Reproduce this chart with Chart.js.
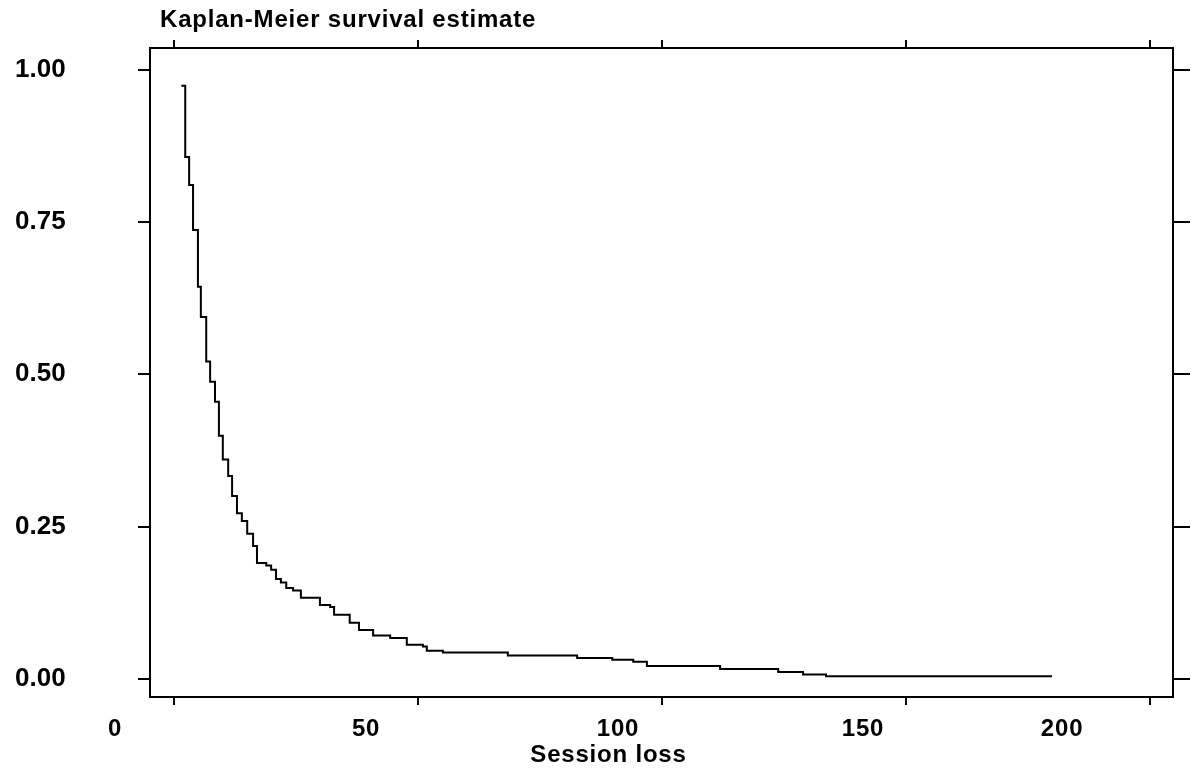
<!DOCTYPE html>
<html>
<head>
<meta charset="utf-8">
<title>Kaplan-Meier survival estimate</title>
<script src="https://cdn.jsdelivr.net/npm/chart.js@4.4.0/dist/chart.umd.min.js"></script>
<style>
  html, body { margin: 0; padding: 0; background: #fff; }
</style>
</head>
<body>
<canvas id="km-chart" width="1194" height="768"></canvas>
<script>
// Session at which each drop happens, and the survival estimate after it
const sessionTimes = [1.5, 2.3, 3.1, 3.9, 4.9, 5.5, 6.6, 7.4, 8.4, 9.2, 10.0, 11.1, 11.9, 12.9, 13.9, 15.0, 16.2, 17.0,
  18.9, 19.9, 20.9, 21.9, 23.0, 24.4, 26.0, 29.9, 32.0, 32.8, 36.0, 37.9, 40.8, 44.3, 47.7, 51.0, 51.8, 55.1,
  68.4, 82.6, 89.8, 94.1, 96.9, 111.9, 123.8, 128.9, 133.6, 179.9];
const survival = [0.974, 0.857, 0.811, 0.737, 0.644, 0.594, 0.521, 0.488, 0.455, 0.399, 0.360, 0.333, 0.300, 0.272, 0.259, 0.238, 0.218, 0.190,
  0.186, 0.179, 0.164, 0.158, 0.149, 0.145, 0.133, 0.121, 0.118, 0.105, 0.092, 0.080, 0.071, 0.067, 0.056, 0.053, 0.046, 0.043,
  0.038, 0.034, 0.031, 0.028, 0.021, 0.016, 0.011, 0.007, 0.004, 0.004];

const xTickValues = [0, 50, 100, 150, 200];
const yTickValues = [0, 0.25, 0.5, 0.75, 1];

const chartTitle = "Kaplan-Meier survival estimate";
const xTitle = "Session loss";

// x labels sit a little left of their tick marks
const xLabelShift = [-59, -52, -44, -43, -88];

const FONT_FAMILY = '"Liberation Sans", Arial, sans-serif';
const X_RANGE = { min: -4.92, max: 204.7 };
const Y_RANGE = { min: -0.03, max: 1.036 };

const points = sessionTimes.map((t, i) => ({ x: t, y: survival[i] }));

// Shared look for the four frame axes: black border, outward ticks only
function frameAxis(position, extra) {
  return Object.assign({
    type: "linear",
    position: position,
    grid: { drawOnChartArea: false, drawTicks: true, color: "#000", lineWidth: 2 },
    border: { display: true, color: "#000", width: 2 },
    ticks: { display: false }
  }, extra);
}

const setXTicks = scale => { scale.ticks = xTickValues.map(v => ({ value: v })); };
const setYTicks = scale => { scale.ticks = yTickValues.map(v => ({ value: v })); };

// Title, x tick labels and x title are drawn by hand
const textPlugin = {
  id: "kmText",
  afterDraw(chart) {
    const { ctx, chartArea, scales } = chart;
    ctx.save();
    ctx.fillStyle = "#000";
    ctx.font = `bold 24px ${FONT_FAMILY}`;
    ctx.letterSpacing = "0.8px";
    ctx.textBaseline = "middle";

    ctx.textAlign = "left";
    ctx.fillText(chartTitle, chartArea.left + 10, 20);

    ctx.textAlign = "center";
    xTickValues.forEach((v, i) => {
      ctx.fillText(String(v), scales.x.getPixelForValue(v) + xLabelShift[i], chartArea.bottom + 32);
    });
    ctx.fillText(xTitle, (chartArea.left + chartArea.right) / 2 - 53, chartArea.bottom + 58);
    ctx.restore();
  }
};

const ctx = document.getElementById("km-chart").getContext("2d");

new Chart(ctx, {
  type: "scatter",
  data: {
    datasets: [{
      data: points,
      showLine: true,
      stepped: true,
      borderColor: "#000",
      borderWidth: 2,
      pointRadius: 0,
      fill: false,
      xAxisID: "x",
      yAxisID: "y"
    }]
  },
  options: {
    responsive: false,
    animation: false,
    devicePixelRatio: 1,
    layout: { padding: { left: 15 } },
    plugins: {
      legend: { display: false },
      tooltip: { enabled: false }
    },
    scales: {
      x: frameAxis("bottom", Object.assign({}, X_RANGE, {
        afterBuildTicks: setXTicks,
        afterFit: s => { s.height = 71; }
      })),
      x2: frameAxis("top", Object.assign({}, X_RANGE, {
        afterBuildTicks: setXTicks,
        afterFit: s => { s.height = 48; }
      })),
      y: frameAxis("left", Object.assign({}, Y_RANGE, {
        afterBuildTicks: setYTicks,
        grid: { drawOnChartArea: false, drawTicks: true, tickLength: 12, color: "#000", lineWidth: 2 },
        ticks: {
          display: true,
          color: "#000",
          padding: 0,
          crossAlign: "far",
          font: { family: FONT_FAMILY, size: 26, weight: "bold" },
          callback: v => v.toFixed(2)
        },
        afterFit: s => { s.width = 135; }
      })),
      y2: frameAxis("right", Object.assign({}, Y_RANGE, {
        afterBuildTicks: setYTicks,
        grid: { drawOnChartArea: false, drawTicks: true, tickLength: 17, color: "#000", lineWidth: 2 },
        afterFit: s => { s.width = 21; }
      }))
    }
  },
  plugins: [textPlugin]
});
</script>
</body>
</html>
